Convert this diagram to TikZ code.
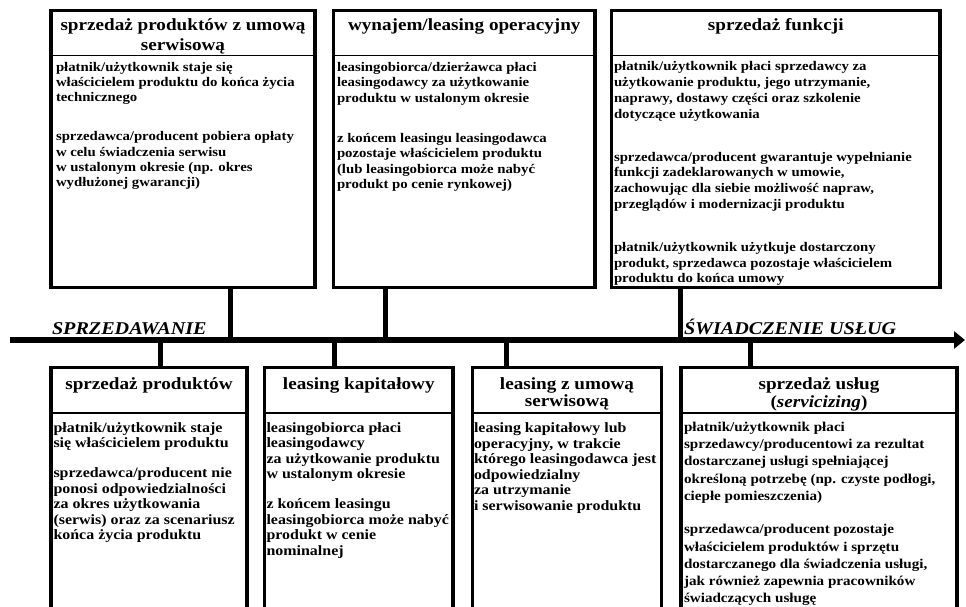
\documentclass[tikz,border=0pt]{standalone}
\usepackage{fontspec}
\setmainfont{Liberation Serif}[FakeStretch=1.12]
\usetikzlibrary{positioning,arrows.meta}
\lineskiplimit=-20pt

\begin{document}
\begin{tikzpicture}
  [x=1pt, y=-1pt,
   every node/.style={inner sep=0pt, outer sep=0pt},
   model/.style={draw, line width=3.5pt, anchor=north west, minimum height=277pt},
   lowmodel/.style={model, minimum height=260pt},
   head/.style={align=center, font=\bfseries\fontsize{17.1}{#1}\selectfont},
   head/.default=20pt,
   txt/.style={align=left, font=\bfseries\fontsize{13.2}{#1}\selectfont},
   lowtxt/.style={align=left, font=\bfseries\fontsize{14.25}{#1}\selectfont},
   phase/.style={anchor=base west, font=\bfseries\itshape\fontsize{18}{20}\selectfont},
   split/.style={line width=1.2pt},
   link/.style={line width=5pt},
   axis/.style={line width=5.5pt, -{Triangle[length=11pt,width=17pt]}}]
 \useasboundingbox (0,0) rectangle (966,607);
 \clip (0,0) rectangle (966,607);

 % upper row
 \node[model, minimum width=264pt] (prodserw) at (51,10.5) {};
 \node[model, minimum width=261.5pt] (wynajem) at (333.5,10.5) {};
 \node[model, minimum width=328.5pt] (funkcje) at (611.5,10.5) {};
 % lower row
 \node[lowmodel, minimum width=196pt] (produkty) at (51,367.5) {};
 \node[lowmodel, minimum width=188.5pt] (kapital) at (264.5,367.5) {};
 \node[lowmodel, minimum width=189pt] (leaseserw) at (472.5,367.5) {};
 \node[lowmodel, minimum width=276pt] (uslugi) at (681,367.5) {};

 \foreach \b in {prodserw,wynajem,funkcje}
   \draw[split] ([yshift=-45pt]\b.north west) -- ([yshift=-45pt]\b.north east);
 \foreach \b in {produkty,kapital,leaseserw,uslugi}
   \draw[split] ([yshift=-45.5pt]\b.north west) -- ([yshift=-45.5pt]\b.north east);

 % headers
 \node[head, below=8.2pt of prodserw.north] (hprodserw) {sprzedaż produktów z umową\\serwisową};
 \node[head, below=8.2pt of wynajem.north] (hwynajem) {wynajem/leasing operacyjny};
 \node[head, below=8.2pt of funkcje.north] (hfunkcje) {sprzedaż funkcji};
 \node[head=16.5pt, below=10.3pt of produkty.north] (hprodukty) {sprzedaż produktów};
 \node[head=16.5pt, below=10.3pt of kapital.north] (hkapital) {leasing kapitałowy};
 \node[head=16.5pt, below=10.3pt of leaseserw.north] (hleaseserw) {leasing z umową\\serwisową};
 \node[head=17.5pt, below=10.3pt of uslugi.north] (huslugi) {sprzedaż usług\\(\textit{servicizing})};

 % descriptions
 \node[txt=15.2pt, below right=51.8pt and 5pt of prodserw.north west] (tprodserw)
   {płatnik/użytkownik staje się\\właścicielem produktu do końca życia\\technicznego\\[23.8pt]
    sprzedawca/producent pobiera opłaty\\w celu świadczenia serwisu\\w ustalonym okresie (np. okres\\wydłużonej gwarancji)};
 \node[txt=15.5pt, below right=51.8pt and 3.5pt of wynajem.north west] (twynajem)
   {leasingobiorca/dzierżawca płaci\\leasingodawcy za użytkowanie\\produktu w ustalonym okresie\\[24.5pt]
    z końcem leasingu leasingodawca\\pozostaje właścicielem produktu\\(lub leasingobiorca może nabyć\\produkt po cenie rynkowej)};
 \node[txt=15.9pt, below right=51.3pt and 2.5pt of funkcje.north west] (tfunkcje)
   {płatnik/użytkownik płaci sprzedawcy za\\użytkowanie produktu, jego utrzymanie,\\naprawy, dostawy części oraz szkolenie\\dotyczące użytkowania\\[26.5pt]
    sprzedawca/producent gwarantuje wypełnianie\\funkcji zadeklarowanych w umowie,\\zachowując dla siebie możliwość napraw,\\przeglądów i modernizacji produktu\\[26.5pt]
    płatnik/użytkownik użytkuje dostarczony\\produkt, sprzedawca pozostaje właścicielem\\produktu do końca umowy};
 \node[lowtxt=15.5pt, below right=55pt and 2.5pt of produkty.north west] (tprodukty)
   {płatnik/użytkownik staje\\się właścicielem produktu\\[14.5pt]
    sprzedawca/producent nie\\ponosi odpowiedzialności\\za okres użytkowania\\(serwis) oraz za scenariusz\\końca życia produktu};
 \node[lowtxt=15.5pt, below right=55pt and 2pt of kapital.north west] (tkapital)
   {leasingobiorca płaci\\leasingodawcy\\za użytkowanie produktu\\w ustalonym okresie\\[14.5pt]
    z końcem leasingu\\leasingobiorca może nabyć\\produkt w cenie\\nominalnej};
 \node[lowtxt=15.5pt, below right=55.5pt and 1.5pt of leaseserw.north west] (tleaseserw)
   {leasing kapitałowy lub\\operacyjny, w trakcie\\którego leasingodawca jest\\odpowiedzialny\\za utrzymanie\\i serwisowanie produktu};
 \node[lowtxt=17.3pt, font=\bfseries\fontsize{13.5}{17.3pt}\selectfont, below right=54.4pt and 3pt of uslugi.north west] (tuslugi)
   {płatnik/użytkownik płaci\\sprzedawcy/producentowi za rezultat\\dostarczanej usługi spełniającej\\określoną potrzebę (np. czyste podłogi,\\ciepłe pomieszczenia)\\[16pt]
    sprzedawca/producent pozostaje\\właścicielem produktów i sprzętu\\dostarczanego dla świadczenia usługi,\\jak również zapewnia pracowników\\świadczących usługę};

 % time axis
 \coordinate (start) at (10,340);
 \coordinate (end) at (965,340);
 \draw[axis] (start) -- (end);
 \node[phase] (sell) at (52,334) {SPRZEDAWANIE};
 \node[phase] (serv) at (684,334) {ŚWIADCZENIE USŁUG};

 \coordinate (a1) at (230.3,340);
 \coordinate (a2) at (385.5,340);
 \coordinate (a3) at (680,340);
 \coordinate (b1) at (160.8,340);
 \coordinate (b2) at (334,340);
 \coordinate (b3) at (506,340);
 \coordinate (b4) at (750,340);
 \foreach \b/\a in {prodserw/a1,wynajem/a2,funkcje/a3}
   \draw[link] (\b.south -| \a) -- (\a);
 \foreach \b/\a in {produkty/b1,kapital/b2,leaseserw/b3,uslugi/b4}
   \draw[link] (\b.north -| \a) -- (\a);
\end{tikzpicture}
\end{document}
